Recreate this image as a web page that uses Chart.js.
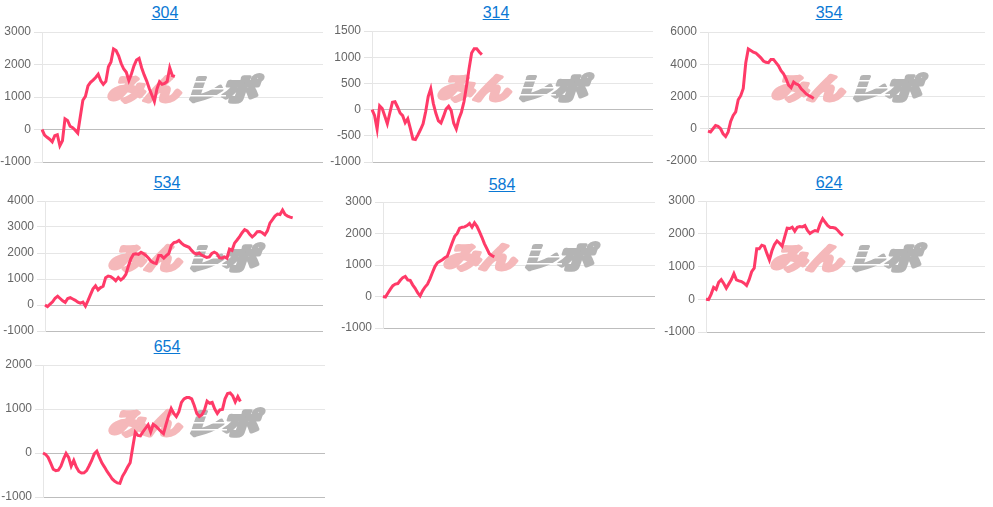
<!DOCTYPE html>
<html>
<head>
<meta charset="utf-8">
<script src="https://cdn.jsdelivr.net/npm/chart.js@4.4.1/dist/chart.umd.min.js"></script>
<style>
  body { margin: 0; background: #fff; width: 993px; height: 507px; overflow: hidden; position: relative; font-family: Arial, "Liberation Sans", sans-serif; }
  .ttl { position: absolute; width: 120px; margin-left: -60px; text-align: center; font-size: 16px; line-height: 18px; }
  .ttl a { color: #0a78d4; text-decoration: underline; }
  canvas { position: absolute; }
</style>
</head>
<body>
<script>
// x axis: game slots (not drawn)
const games = Array.from({ length: 111 }, (_, i) => i + 1);

const machines = ['304', '314', '354', '534', '584', '624', '654'];

const s304 = [0, -170, -240, -300, -380, -190, -160, -500, -350, 330, 280, 100, 55, -20, -110, 400, 900, 1020, 1340, 1450,
  1520, 1600, 1700, 1500, 1390, 1480, 1930, 2080, 2480, 2430, 2270, 2030, 1860, 1760, 1510, 1710, 1960, 2140, 2190, 1900,
  1680, 1490, 1260, 1060, 860, 1250, 1470, 1390, 1420, 1480, 1900, 1660, 1630];
const s314 = [0, -110, -370, 70, 20, -120, -270, -60, 140, 150, 50, -65, -115, -250, -175, -360, -560, -570, -480, -380,
  -270, -40, 250, 400, 120, -70, -215, -255, -130, 10, 65, -20, -260, -370, -180, -50, 150, 450, 780, 1080,
  1160, 1160, 1100, 1050];
const s354 = [-150, -200, 0, 200, 150, 0, -320, -480, -200, 450, 830, 1050, 1800, 2050, 2500, 4100, 4950, 4850, 4750, 4700,
  4550, 4400, 4200, 4120, 4100, 4300, 4300, 4100, 3900, 3600, 3400, 3100, 2700, 2550, 2900, 2780, 2720, 2480, 2330, 2160,
  2060, 1980, 1880];
const s534 = [0, -60, 30, 120, 260, 340, 250, 160, 100, 250, 280, 230, 180, 110, 70, 110, -40, 170, 400, 620,
  740, 580, 670, 720, 1050, 1115, 1090, 1025, 930, 1060, 960, 1040, 1180, 1500, 1780, 1950, 1970, 1950, 2030, 1970,
  1900, 1800, 1680, 1620, 1600, 1900, 1900, 1800, 1900, 1980, 2300, 2400, 2420, 2480, 2380, 2300, 2260, 2220, 2100, 2000,
  1960, 2000, 1920, 1870, 1830, 1850, 1980, 2030, 1980, 1820, 1800, 1850, 1800, 2150, 2100, 2380, 2500, 2630, 2780, 2900,
  2850, 2720, 2620, 2700, 2820, 2830, 2780, 2700, 2850, 3150, 3280, 3420, 3500, 3480, 3650, 3480, 3420, 3380, 3350];
const s584 = [0, -20, 110, 235, 345, 395, 410, 515, 600, 640, 525, 510, 370, 260, 120, 20, 180, 300, 390, 560,
  760, 950, 1070, 1120, 1170, 1230, 1280, 1490, 1710, 1910, 2000, 2170, 2200, 2210, 2250, 2320, 2200, 2340, 2230, 2060,
  1880, 1680, 1520, 1360, 1300, 1260];
const s624 = [0, -10, 150, 360, 305, 520, 600, 480, 340, 470, 600, 780, 590, 560, 540, 490, 420, 600, 840, 950,
  1540, 1540, 1650, 1620, 1400, 1200, 1480, 1670, 1780, 1710, 1620, 1900, 2170, 2160, 2200, 2080, 2200, 2220, 2210, 2250,
  2100, 2010, 2060, 2100, 2080, 2300, 2460, 2350, 2250, 2190, 2190, 2170, 2100, 2010, 1945];
const s654 = [0, -30, -100, -230, -370, -400, -390, -300, -140, -10, -100, -300, -170, -320, -420, -455, -450, -400, -290, -170,
  -20, 40, -100, -230, -320, -420, -500, -590, -645, -680, -690, -530, -430, -320, -220, 130, 470, 400, 390, 480,
  560, 640, 480, 650, 610, 550, 490, 440, 650, 850, 1010, 900, 830, 940, 1150, 1230, 1260, 1260, 1230, 1080,
  900, 830, 870, 980, 1180, 1130, 1150, 1000, 900, 980, 990, 1230, 1350, 1365, 1300, 1160, 1280, 1170];

// y axis [min, max, step]
const y304 = [-1000, 3000, 1000];
const y314 = [-1000, 1500, 500];
const y354 = [-2000, 6000, 2000];
const y534 = [-1000, 4000, 1000];
const y584 = [-1000, 3000, 1000];
const y624 = [-1000, 3000, 1000];
const y654 = [-1000, 2000, 1000];

Chart.defaults.font.family = 'Arial, "Liberation Sans", sans-serif';

// watermark logo, drawn once offscreen
function makeLogo() {
  const c = document.createElement('canvas');
  c.width = 190; c.height = 44;
  const g = c.getContext('2d');
  g.translate(95, 22);
  g.transform(1.25, 0, -0.34, 1, 0, 0);
  g.font = 'bold 29px "Noto Sans CJK JP"';
  g.textBaseline = 'middle';
  g.lineJoin = 'round';
  g.lineWidth = 4;
  g.textAlign = 'right';
  g.fillStyle = g.strokeStyle = '#f5b8ba';
  g.fillText('みん', 0, 1);
  g.strokeText('みん', 0, 1);
  g.textAlign = 'left';
  g.fillStyle = g.strokeStyle = '#b4b4b4';
  g.fillText('レポ', 4, 1);
  g.strokeText('レポ', 4, 1);
  g.setTransform(1, 0, 0, 1, 0, 0);
  g.globalCompositeOperation = 'destination-out';
  [15, 22, 29].forEach(y => g.fillRect(98, y, 40, 1.5));
  return c;
}
const logoImg = makeLogo();

const logo = {
  id: 'logo',
  beforeDatasetsDraw(chart) {
    const a = chart.chartArea;
    const cx = (a.left + a.right) / 2;
    const cy = a.top + 0.43 * (a.bottom - a.top);
    chart.ctx.drawImage(logoImg, Math.round(cx - 95), Math.round(cy - 22));
  }
};

function drawPanel(name, values, yr, plot, tx, ty) {
  const yw = 42, pad = 7;
  const t = document.createElement('div');
  t.className = 'ttl';
  t.style.left = tx + 'px';
  t.style.top = ty + 'px';
  t.innerHTML = '<a href="#">' + name + '</a>';
  document.body.appendChild(t);

  const c = document.createElement('canvas');
  const w = plot[2] - plot[0] + yw, h = plot[3] - plot[1] + 2 * pad;
  c.width = w; c.height = h;
  c.style.width = w + 'px'; c.style.height = h + 'px';
  c.style.left = (plot[0] - yw) + 'px';
  c.style.top = (plot[1] - pad) + 'px';
  document.body.appendChild(c);

  new Chart(c, {
    type: 'line',
    data: {
      labels: games,
      datasets: [{
        data: values,
        borderColor: '#ff3a68',
        borderWidth: 3,
        pointRadius: 0,
        tension: 0,
        fill: false
      }]
    },
    options: {
      responsive: false,
      animation: false,
      events: [],
      layout: { padding: 0 },
      plugins: { legend: { display: false }, tooltip: { enabled: false } },
      scales: {
        x: { display: false },
        y: {
          min: yr[0],
          max: yr[1],
          ticks: { stepSize: yr[2], color: '#666', font: { size: 12 }, padding: 3, callback: v => String(v) },
          grid: {
            color: ctx => (ctx.tick && (ctx.tick.value === 0 || ctx.tick.value === yr[0])) ? '#bdbdbd' : '#e6e6e6',
            tickColor: '#e3e3e3',
            tickLength: 8
          },
          border: { color: '#e6e6e6' },
          afterFit: s => { s.width = yw; s.paddingTop = pad; s.paddingBottom = pad; }
        }
      }
    },
    plugins: [logo]
  });
}

drawPanel(machines[0], s304, y304, [42, 32, 323, 162], 165, 4);
drawPanel(machines[1], s314, y314, [372, 31, 653, 162], 496, 4);
drawPanel(machines[2], s354, y354, [708, 32, 985, 161], 829, 4);
drawPanel(machines[3], s534, y534, [45, 201, 323, 331], 167, 174);
drawPanel(machines[4], s584, y584, [383, 202, 655, 328], 502, 176);
drawPanel(machines[5], s624, y624, [706, 201, 985, 332], 829, 174);
drawPanel(machines[6], s654, y654, [43, 365, 325, 497], 167, 338);
</script>
</body>
</html>
